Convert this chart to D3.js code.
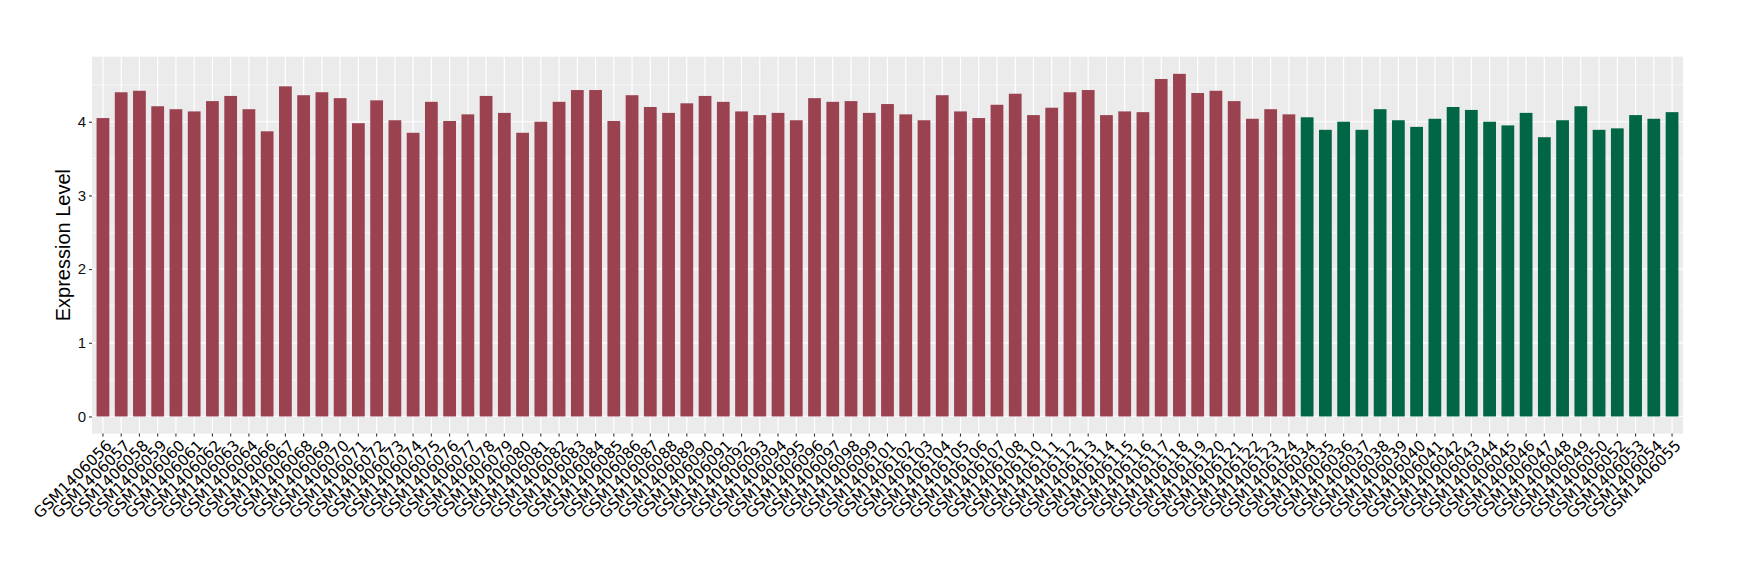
<!DOCTYPE html>
<html>
<head>
<meta charset="utf-8">
<script src="https://cdn.jsdelivr.net/npm/d3@7"></script>
<style>
  body { margin: 0; background: #ffffff; }
  svg { display: block; }
</style>
</head>
<body>
<div id="chart"></div>
<script>
// group A (maroon) and group B (green) samples, in plotting order
const groupASamples = [
  "GSM1406056", "GSM1406057", "GSM1406058", "GSM1406059", "GSM1406060", "GSM1406061",
  "GSM1406062", "GSM1406063", "GSM1406064", "GSM1406066", "GSM1406067", "GSM1406068",
  "GSM1406069", "GSM1406070", "GSM1406071", "GSM1406072", "GSM1406073", "GSM1406074",
  "GSM1406075", "GSM1406076", "GSM1406077", "GSM1406078", "GSM1406079", "GSM1406080",
  "GSM1406081", "GSM1406082", "GSM1406083", "GSM1406084", "GSM1406085", "GSM1406086",
  "GSM1406087", "GSM1406088", "GSM1406089", "GSM1406090", "GSM1406091", "GSM1406092",
  "GSM1406093", "GSM1406094", "GSM1406095", "GSM1406096", "GSM1406097", "GSM1406098",
  "GSM1406099", "GSM1406101", "GSM1406102", "GSM1406103", "GSM1406104", "GSM1406105",
  "GSM1406106", "GSM1406107", "GSM1406108", "GSM1406110", "GSM1406111", "GSM1406112",
  "GSM1406113", "GSM1406114", "GSM1406115", "GSM1406116", "GSM1406117", "GSM1406118",
  "GSM1406119", "GSM1406120", "GSM1406121", "GSM1406122", "GSM1406123", "GSM1406124"
];
const groupAValues = [
  4.05, 4.40, 4.42, 4.21, 4.17, 4.14, 4.28, 4.35, 4.17, 3.87, 4.48, 4.36,
  4.40, 4.32, 3.98, 4.29, 4.02, 3.85, 4.27, 4.01, 4.10, 4.35, 4.12, 3.85,
  4.00, 4.27, 4.43, 4.43, 4.01, 4.36, 4.20, 4.12, 4.25, 4.35, 4.27, 4.14,
  4.09, 4.12, 4.02, 4.32, 4.27, 4.28, 4.12, 4.24, 4.10, 4.02, 4.36, 4.14,
  4.05, 4.23, 4.38, 4.09, 4.19, 4.40, 4.43, 4.09, 4.14, 4.13, 4.58, 4.65,
  4.39, 4.42, 4.28, 4.04, 4.17, 4.10
];
const groupBSamples = [
  "GSM1406034", "GSM1406035", "GSM1406036", "GSM1406037", "GSM1406038", "GSM1406039",
  "GSM1406040", "GSM1406041", "GSM1406042", "GSM1406043", "GSM1406044", "GSM1406045",
  "GSM1406046", "GSM1406047", "GSM1406048", "GSM1406049", "GSM1406050", "GSM1406052",
  "GSM1406053", "GSM1406054", "GSM1406055"
];
const groupBValues = [
  4.06, 3.89, 4.00, 3.89, 4.17, 4.02, 3.93, 4.04, 4.20, 4.16, 4.00, 3.95,
  4.12, 3.79, 4.02, 4.21, 3.89, 3.91, 4.09, 4.04, 4.13
];
const yTicks = [0, 1, 2, 3, 4];
const yLabel = "Expression Level";

const colorA = "#9b4251";
const colorB = "#006645";

const data = groupASamples.map((s, i) => ({ sample: s, value: groupAValues[i], group: "A" }))
  .concat(groupBSamples.map((s, i) => ({ sample: s, value: groupBValues[i], group: "B" })));

const width = 1740;
const height = 580;
const panel = { left: 92, right: 1683, top: 56.7, bottom: 433.6 };

const svg = d3.select("#chart")
  .append("svg")
  .attr("width", width)
  .attr("height", height);

// ggplot-like discrete scale: 0.6 step expansion on each side, bar width 0.7
const x = d3.scaleBand()
  .domain(data.map((d) => d.sample))
  .range([panel.left, panel.right])
  .paddingInner(0.3)
  .paddingOuter(0.25);

const yMax = d3.max(data, (d) => d.value);
const expand = yMax * 0.05;
const y = d3.scaleLinear()
  .domain([-expand, yMax + expand])
  .range([panel.bottom, panel.top]);

// panel background
svg.append("rect")
  .attr("x", panel.left)
  .attr("y", panel.top)
  .attr("width", panel.right - panel.left)
  .attr("height", panel.bottom - panel.top)
  .attr("fill", "#ebebeb");

// minor y grid
const minorTicks = d3.range(0.5, yMax + expand, 1);
svg.append("g")
  .selectAll("line")
  .data(minorTicks)
  .join("line")
  .attr("x1", panel.left)
  .attr("x2", panel.right)
  .attr("y1", (d) => y(d))
  .attr("y2", (d) => y(d))
  .attr("stroke", "#ffffff")
  .attr("stroke-width", 0.6);

// major y grid
svg.append("g")
  .selectAll("line")
  .data(yTicks)
  .join("line")
  .attr("x1", panel.left)
  .attr("x2", panel.right)
  .attr("y1", (d) => y(d))
  .attr("y2", (d) => y(d))
  .attr("stroke", "#ffffff")
  .attr("stroke-width", 1.2);

// major x grid
svg.append("g")
  .selectAll("line")
  .data(data)
  .join("line")
  .attr("x1", (d) => x(d.sample) + x.bandwidth() / 2)
  .attr("x2", (d) => x(d.sample) + x.bandwidth() / 2)
  .attr("y1", panel.top)
  .attr("y2", panel.bottom)
  .attr("stroke", "#ffffff")
  .attr("stroke-width", 1.2);

// bars
svg.append("g")
  .selectAll("rect")
  .data(data)
  .join("rect")
  .attr("x", (d) => x(d.sample))
  .attr("y", (d) => y(d.value))
  .attr("width", x.bandwidth())
  .attr("height", (d) => y(0) - y(d.value))
  .attr("fill", (d) => (d.group === "A" ? colorA : colorB));

// y axis
const yAxis = svg.append("g")
  .attr("transform", `translate(${panel.left},0)`)
  .call(d3.axisLeft(y).tickValues(yTicks).tickSize(3).tickPadding(3).tickFormat(d3.format("d")));
yAxis.select(".domain").remove();
yAxis.selectAll(".tick line").attr("stroke", "#333333").attr("stroke-width", 1.1);
yAxis.selectAll(".tick text")
  .attr("fill", "#111111")
  .style("font-family", "'Liberation Sans', Arial, sans-serif")
  .style("font-size", "15px");

// x axis
const xAxis = svg.append("g")
  .attr("transform", `translate(0,${panel.bottom})`)
  .call(d3.axisBottom(x).tickSize(3).tickPadding(0));
xAxis.select(".domain").remove();
xAxis.selectAll(".tick line").attr("stroke", "#333333").attr("stroke-width", 1.1);
xAxis.selectAll(".tick text")
  .attr("fill", "#000000")
  .attr("text-anchor", "end")
  .attr("x", 0)
  .attr("y", 0)
  .attr("dy", "0.73em")
  .attr("transform", "translate(2,5) rotate(-45)")
  .style("font-family", "'DejaVu Sans', sans-serif")
  .style("font-size", "15.3px");

// y title
svg.append("text")
  .attr("transform", `translate(70,${(panel.top + panel.bottom) / 2}) rotate(-90)`)
  .attr("text-anchor", "middle")
  .attr("fill", "#000000")
  .style("font-family", "'Liberation Sans', Arial, sans-serif")
  .style("font-size", "20px")
  .text(yLabel);
</script>
</body>
</html>
